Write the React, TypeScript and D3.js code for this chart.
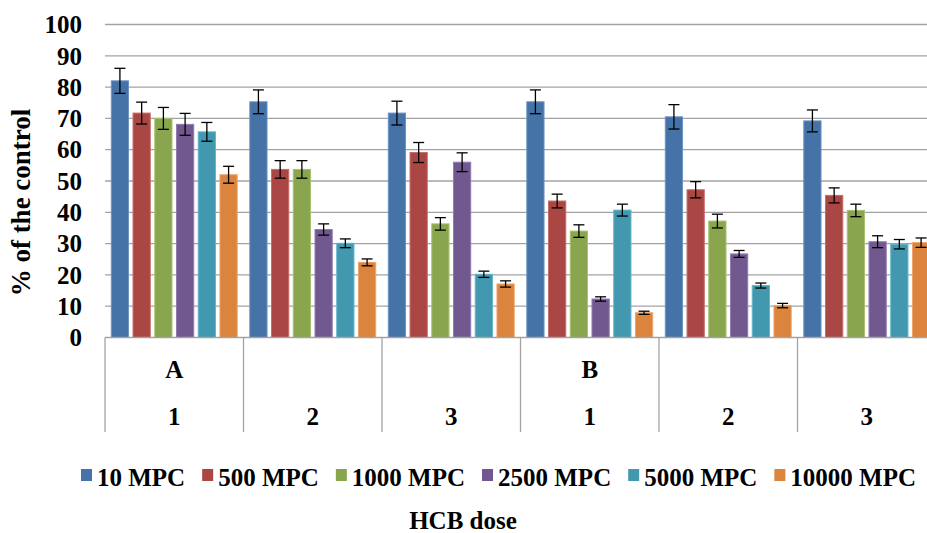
import { useEffect, useRef } from 'react';
import * as d3 from 'd3';

const groups = ['A1', 'A2', 'A3', 'B1', 'B2', 'B3'];
const groupTicks = ['1', '2', '3', '1', '2', '3'];
const groupHeaders = ['A', '', '', 'B', '', ''];
const series = ['10 MPC', '500 MPC', '1000 MPC', '2500 MPC', '5000 MPC', '10000 MPC'];
const colors = ['#4572A7', '#AA4643', '#89A54E', '#71588F', '#4198AF', '#DB843D'];
const edgeColors = ['#6d93c4', '#c76b68', '#a8c172', '#927cae', '#66b5cb', '#eea36a'];

// values per series, one entry per group
const mpc10 = [82.0, 75.3, 71.7, 75.3, 70.5, 69.2];
const mpc500 = [71.7, 53.7, 59.1, 43.6, 47.2, 45.4];
const mpc1000 = [70.0, 53.7, 36.3, 34.0, 37.2, 40.6];
const mpc2500 = [68.1, 34.5, 56.0, 12.3, 26.7, 30.6];
const mpc5000 = [65.7, 30.1, 20.2, 40.7, 16.6, 29.8];
const mpc10000 = [52.0, 24.0, 17.1, 7.9, 10.2, 30.3];

// error bar half-widths
const err10 = [4.0, 3.8, 3.8, 3.8, 3.9, 3.5];
const err500 = [3.5, 2.8, 3.2, 2.2, 2.6, 2.4];
const err1000 = [3.5, 2.8, 2.0, 2.0, 2.2, 2.0];
const err2500 = [3.5, 1.8, 3.0, 0.7, 1.1, 1.9];
const err5000 = [3.0, 1.4, 1.0, 1.9, 0.8, 1.5];
const err10000 = [2.7, 1.1, 1.0, 0.5, 0.7, 1.5];

const values = [mpc10, mpc500, mpc1000, mpc2500, mpc5000, mpc10000];
const errors = [err10, err500, err1000, err2500, err5000, err10000];
const yTicks = [0, 10, 20, 30, 40, 50, 60, 70, 80, 90, 100];

const FONT = 'Liberation Serif, Times New Roman, Times, Tinos, Nimbus Roman, DejaVu Serif, serif';

export default function App() {
  const legendRef = useRef<SVGGElement>(null);

  useEffect(() => {
    document.body.style.margin = '0';
    const g = d3.select(legendRef.current);
    g.selectAll('*').remove();
    let x = 81;
    series.forEach((s, i) => {
      g.append('rect')
        .attr('x', x)
        .attr('y', 469)
        .attr('width', 11)
        .attr('height', 12)
        .attr('fill', colors[i]);
      const t = g.append('text')
        .attr('x', x + 16)
        .attr('y', 486)
        .style('font-family', FONT)
        .attr('font-weight', 'bold')
        .attr('font-size', 25)
        .attr('fill', '#000')
        .text(s);
      const w = (t.node() as SVGTextElement).getComputedTextLength();
      x += 16 + w + 17;
    });
  }, []);

  const width = 927;
  const height = 533;
  const left = 105;
  const groupW = 138.5;
  const right = left + groupW * groups.length;

  const y = d3.scaleLinear().domain([0, 100]).range([337.5, 24.5]);
  const x0 = d3.scaleBand().domain(groups).range([left, right]).padding(0);
  const x1 = d3.scaleBand().domain(series).range([0, x0.bandwidth()])
    .paddingInner(0.207).paddingOuter(0.29);

  const txt = { fontFamily: FONT, fontWeight: 'bold' as const };

  return (
    <svg width={width} height={height} style={{ display: 'block', background: '#fff' }}>
      {yTicks.map((t) => (
        <g key={t}>
          {t > 0 && (
            <line x1={left} x2={right} y1={y(t)} y2={y(t)} stroke="#a3a3a3" strokeWidth={1.3} />
          )}
          <text x={82} y={y(t)} dy="0.35em" textAnchor="end" style={txt} fontSize={25}>{t}</text>
        </g>
      ))}

      {groups.map((gname, gi) => (
        <g key={gname} transform={`translate(${x0(gname)},0)`}>
          {series.map((s, si) => {
            const v = values[si][gi];
            const e = errors[si][gi];
            const bx = x1(s)!;
            const bw = x1.bandwidth();
            const cx = bx + bw / 2;
            return (
              <g key={s}>
                <rect x={bx} y={y(v)} width={bw} height={y(0) - y(v)}
                  fill={colors[si]} stroke={edgeColors[si]} strokeWidth={1} />
                <line x1={cx} x2={cx} y1={y(v + e)} y2={y(v - e)} stroke="#000" strokeWidth={1.3} />
                <line x1={cx - 5.5} x2={cx + 5.5} y1={y(v + e)} y2={y(v + e)} stroke="#000" strokeWidth={1.3} />
                <line x1={cx - 5.5} x2={cx + 5.5} y1={y(v - e)} y2={y(v - e)} stroke="#000" strokeWidth={1.3} />
              </g>
            );
          })}
        </g>
      ))}

      <line x1={left} x2={right} y1={y(0)} y2={y(0)} stroke="#a3a3a3" strokeWidth={1.3} />
      {d3.range(groups.length + 1).map((i) => (
        <line key={i} x1={left + i * groupW} x2={left + i * groupW} y1={y(0)} y2={432}
          stroke="#a3a3a3" strokeWidth={1.3} />
      ))}
      {groups.map((gname, gi) => (
        <g key={gname}>
          {groupHeaders[gi] && (
            <text x={x0(gname)! + groupW / 2} y={378} textAnchor="middle" style={txt}
              fontSize={25}>{groupHeaders[gi]}</text>
          )}
          <text x={x0(gname)! + groupW / 2} y={425} textAnchor="middle" style={txt}
            fontSize={25}>{groupTicks[gi]}</text>
        </g>
      ))}

      <text transform={`translate(30,202.5) rotate(-90)`} textAnchor="middle" style={txt}
        fontSize={27}>% of the control</text>

      <g ref={legendRef} />

      <text x={463} y={529} textAnchor="middle" style={txt} fontSize={25}>HCB dose</text>
    </svg>
  );
}
